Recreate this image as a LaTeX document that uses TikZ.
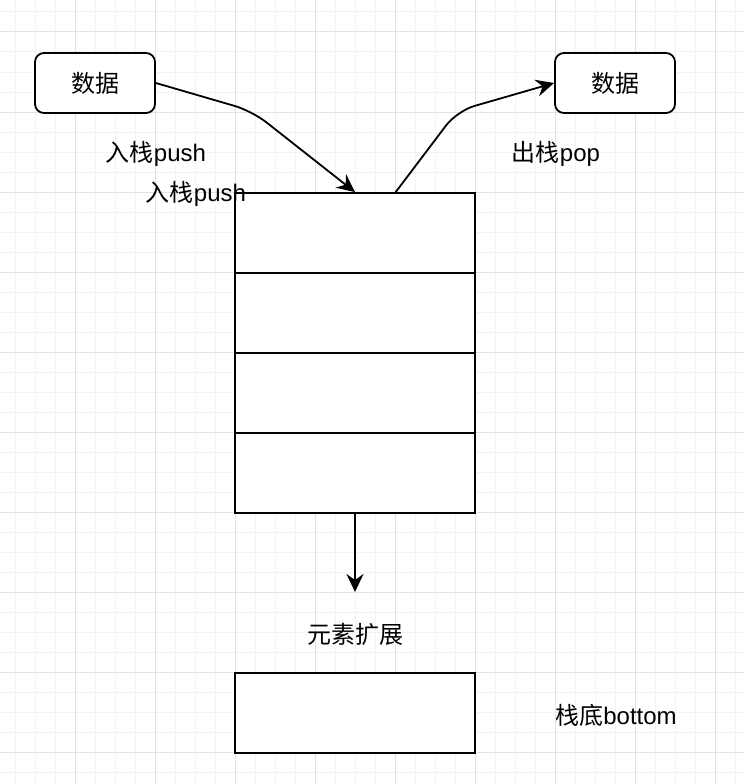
\documentclass[tikz,border=0pt]{standalone}
\usepackage{fontspec}
\setmainfont{Liberation Sans}
\newfontfamily\cjk{Noto Sans CJK SC}
\usetikzlibrary{arrows.meta}
\definecolor{gridminor}{RGB}{243,243,243}
\definecolor{gridmajor}{RGB}{226,226,226}

\begin{document}
\begin{tikzpicture}[x=1pt, y=-1pt, line width=1.8pt,
	font=\fontsize{24}{28}\selectfont,
	data/.style={draw, fill=white, rounded corners=9pt, minimum width=120pt, minimum height=60pt, inner sep=0pt},
	cell/.style={draw, fill=white, minimum width=240pt, minimum height=80pt, inner sep=0pt},
	arr/.style={-{Stealth[length=18pt,width=17pt,inset=6pt]}, rounded corners=18pt}]
	\useasboundingbox (0,0) rectangle (744,784);
	%grid
	\foreach \x in {15,35,...,735}
	\draw[gridminor, line width=1pt] (\x,0) -- (\x,784);
	\foreach \y in {12,32,...,772}
	\draw[gridminor, line width=1pt] (0,\y) -- (744,\y);
	\foreach \x in {75,155,...,715}
	\draw[gridmajor, line width=1pt] (\x,0) -- (\x,784);
	\foreach \y in {32,112,...,752}
	\draw[gridmajor, line width=1pt] (0,\y) -- (744,\y);
	%stack
	\node[cell] (cell1) at (355,233) {};
	\node[cell] (cell2) at (355,313) {};
	\node[cell] (cell3) at (355,393) {};
	\node[cell] (cell4) at (355,473) {};
	\node[cell] (bottom) at (355,713) {};
	%data
	\node[data] (datain) at (95,83) {\cjk 数据};
	\node[data] (dataout) at (615,83) {\cjk 数据};
	%labels
	\node (lblpush) at (156,154) {{\cjk 入栈}push};
	\node (lblpushb) at (196,194) {{\cjk 入栈}push};
	\node (lblpop) at (556,154) {{\cjk 出栈}pop};
	\node (lblgrow) at (355,634) {\cjk 元素扩展};
	\node (lblbottom) at (616,715) {{\cjk 栈底}bottom};
	%arrows
	\coordinate (pushbend) at (252,111);
	\coordinate (popstart) at (395,193);
	\coordinate (popbend) at (457,111);
	\coordinate (growend) at (355,592);
	\draw[arr] (datain.east) -- (pushbend) -- (cell1.north);
	\draw[arr] (popstart) -- (popbend) -- (dataout.west);
	\draw[arr] (cell4.south) -- (growend);
\end{tikzpicture}
\end{document}
